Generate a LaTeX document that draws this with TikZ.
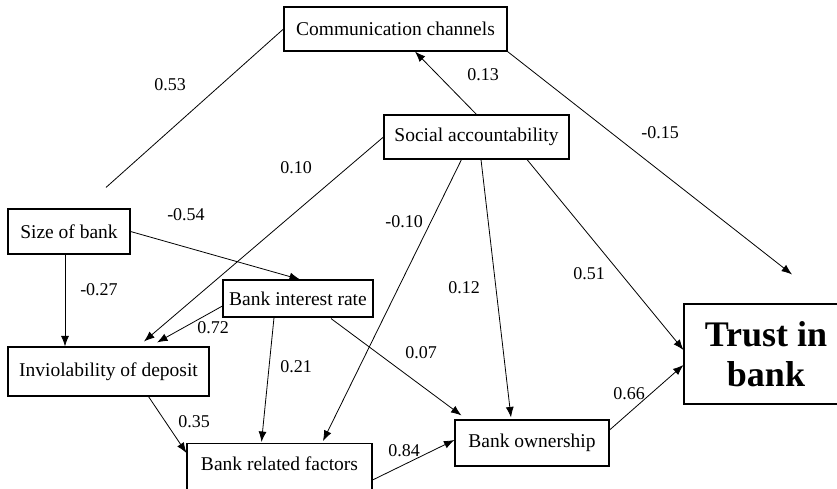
\documentclass[tikz,border=0pt]{standalone}
\usepackage{fontspec}
\setmainfont{Liberation Serif}
\usetikzlibrary{arrows.meta,positioning}

\begin{document}
\begin{tikzpicture}[x=1pt, y=-1pt,
                    factor/.style={draw, rectangle, line width=1.1pt, inner sep=0pt,
                                   font=\fontsize{19.5}{23}\selectfont},
                    coef/.style={inner sep=0pt, font=\fontsize{18}{21}\selectfont},
                    link/.style={->, >={Latex[length=10.5pt,width=8pt]}, line width=0.8pt}]
\useasboundingbox (0,0) rectangle (837,489);

\node[factor, minimum width=223pt, minimum height=44pt] (comm) at (395.5,29) {Communication channels};
\node[factor, minimum width=185pt, minimum height=44pt] (soc) at (476.5,137) {Social accountability};
\node[factor, minimum width=122pt, minimum height=45pt] (size) at (69,231.5) {Size of bank};
\node[factor, minimum width=150pt, minimum height=37pt] (rate) at (298,298.5) {Bank interest rate};
\node[factor, minimum width=201pt, minimum height=49pt] (inv) at (108.5,371.5) {Inviolability of deposit};
\node[factor, minimum width=185pt, anchor=north, inner ysep=7pt,
      text height=20pt, text depth=30pt] (brf) at (279.5,443) {Bank related factors};
\node[factor, minimum width=154pt, minimum height=46pt] (own) at (532,443) {Bank ownership};
\node[factor, minimum width=164pt, minimum height=100pt, align=center,
      font=\fontsize{36}{40}\selectfont\bfseries] (trust) at (766,354) {Trust in\\bank};

% loose ends
\coordinate[above right=21pt and 37pt of size.north] (sizeend);
\coordinate[above right=29pt and 26pt of trust.north] (trustend);
\coordinate[left=4pt of size.south] (sizedown);

% paths
\draw[line width=0.8pt] (comm.west) -- (sizeend);
\draw[link] (soc.north) -- ([xshift=19.5pt]comm.south);
\draw[link] (comm.south east) -- (trustend);
\draw[link] (soc.west) -- ([xshift=35.5pt,yshift=5pt]inv.north);
\draw[link] (size.east) -- ([xshift=2pt]rate.north);
\draw[link] (sizedown) -- (sizedown |- inv.north);
\draw[link] ([yshift=-7.5pt]rate.west) -- ([xshift=48.5pt,yshift=4pt]inv.north);
\draw[link] ([xshift=-24pt]rate.south) -- ([xshift=-18pt,yshift=1pt]brf.north);
\draw[link] ([xshift=33pt,yshift=-1pt]rate.south) -- ([xshift=7pt,yshift=4pt]own.north west);
\draw[link] ([xshift=-15pt]soc.south) -- ([xshift=43.5pt,yshift=2pt]brf.north);
\draw[link] ([xshift=4.5pt]soc.south) -- ([xshift=-21pt,yshift=2pt]own.north);
\draw[link] ([xshift=50.5pt]soc.south) -- ([yshift=4pt]trust.west);
\draw[link] ([xshift=40pt]inv.south) -- ([yshift=-10pt]brf.north west);
\draw[link] ([yshift=-37pt]brf.north east) -- ([yshift=3pt]own.west);
\draw[link] ([yshift=13pt]own.east) -- ([yshift=-11pt]trust.west);

% coefficients
\node[coef] (c53) at (170,85) {0.53};
\node[coef] (c13) at (483,75) {0.13};
\node[coef] (c15) at (660,133) {-0.15};
\node[coef] (c10) at (296,168) {0.10};
\node[coef] (c54) at (186,215) {-0.54};
\node[coef] (c27) at (99,290) {-0.27};
\node[coef] (c72) at (213,328) {0.72};
\node[coef] (c21) at (296,367) {0.21};
\node[coef] (c07) at (421,353) {0.07};
\node[coef] (cm10) at (404,222) {-0.10};
\node[coef] (c12) at (464,288) {0.12};
\node[coef] (c51) at (589,274) {0.51};
\node[coef] (c35) at (194,422) {0.35};
\node[coef] (c84) at (404,451) {0.84};
\node[coef] (c66) at (629,394) {0.66};

\end{tikzpicture}
\end{document}
